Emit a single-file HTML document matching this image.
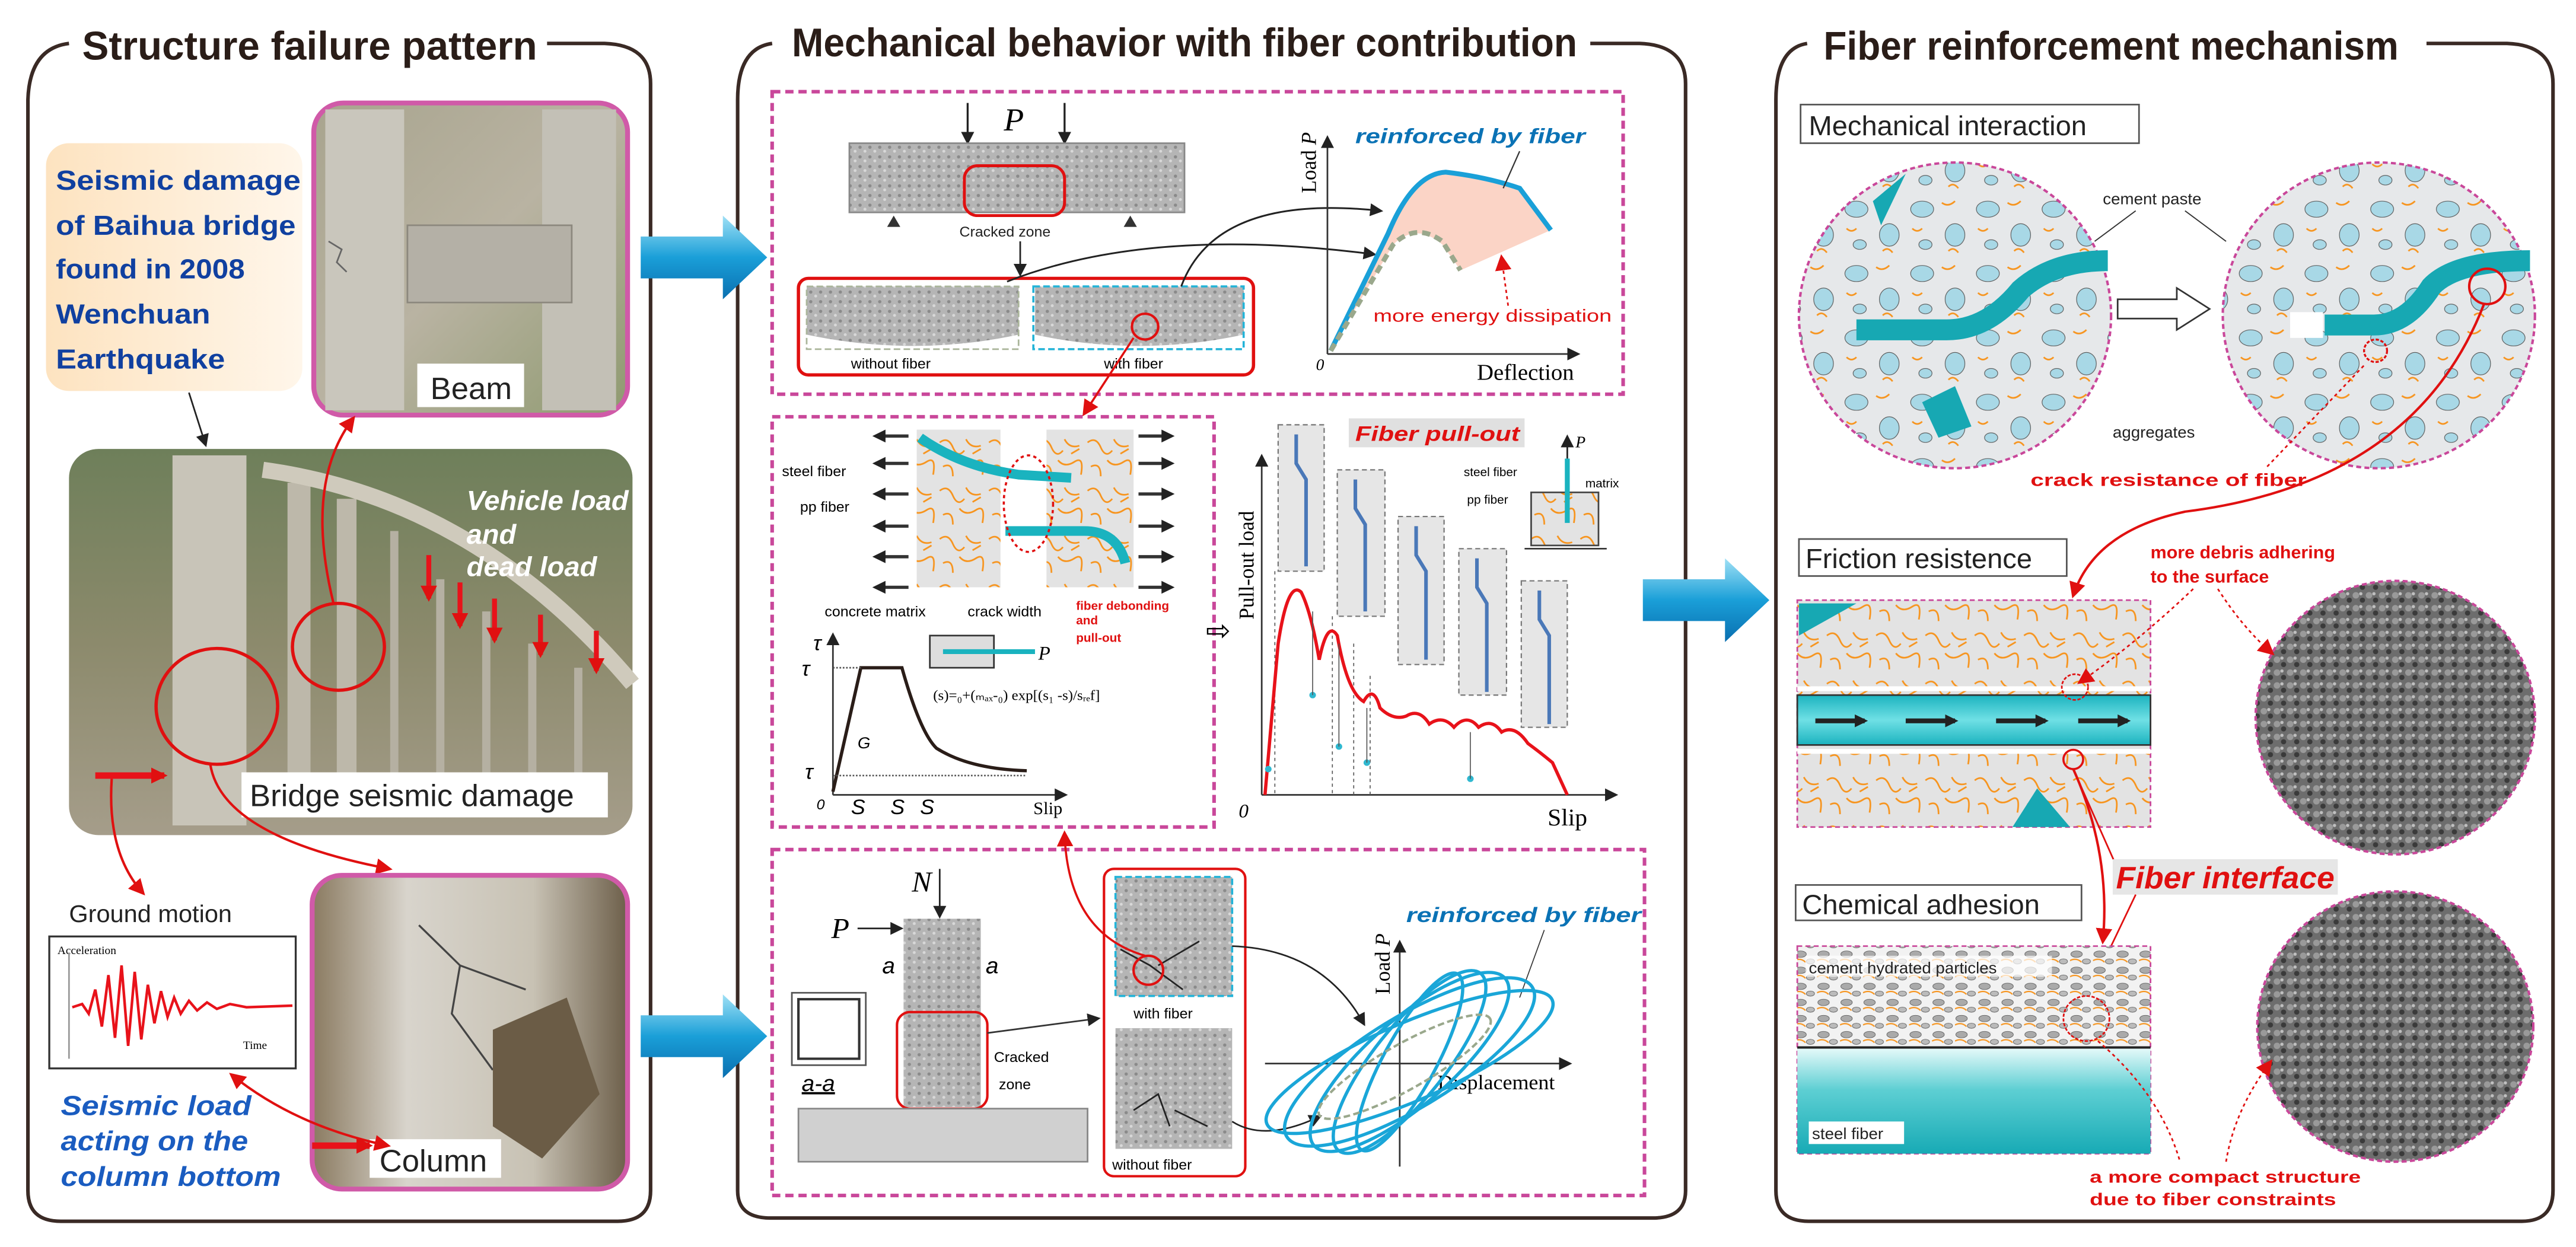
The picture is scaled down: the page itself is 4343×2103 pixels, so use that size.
<!DOCTYPE html>
<html><head><meta charset="utf-8"><style>
html,body{margin:0;padding:0;background:#fff;}
svg{display:block;}
text{font-family:"Liberation Sans",sans-serif;}
.ser{font-family:"Liberation Serif",serif;}
</style></head><body>
<svg width="4343" height="2103" viewBox="0 0 1568 775" preserveAspectRatio="none" xmlns="http://www.w3.org/2000/svg">
<defs>
<marker id="ab" markerWidth="8" markerHeight="8" refX="6" refY="4" orient="auto" markerUnits="userSpaceOnUse"><path d="M0,0 L8,4 L0,8 z" fill="#222"/></marker>
<marker id="ar" markerWidth="10" markerHeight="10" refX="8" refY="5" orient="auto" markerUnits="userSpaceOnUse"><path d="M0,0 L10,5 L0,10 z" fill="#e01010"/></marker>
<marker id="ars" markerWidth="10" markerHeight="10" refX="2" refY="5" orient="auto" markerUnits="userSpaceOnUse"><path d="M10,0 L0,5 L10,10 z" fill="#e01010"/></marker>
<linearGradient id="barr" x1="0" y1="0" x2="0" y2="1"><stop offset="0" stop-color="#9fe0f5"/><stop offset="0.5" stop-color="#1a9fd8"/><stop offset="1" stop-color="#0a6fb0"/></linearGradient>
<linearGradient id="teal" x1="0" y1="0" x2="0" y2="1"><stop offset="0" stop-color="#e8fafa"/><stop offset="0.4" stop-color="#5dcfd3"/><stop offset="1" stop-color="#17aab5"/></linearGradient>
<linearGradient id="tealb" x1="0" y1="0" x2="0" y2="1"><stop offset="0" stop-color="#1bb3bf"/><stop offset="0.5" stop-color="#6fe0e5"/><stop offset="1" stop-color="#1bb3bf"/></linearGradient>
<linearGradient id="peach" x1="0" y1="0" x2="1" y2="0"><stop offset="0" stop-color="#fde3c0"/><stop offset="1" stop-color="#fff6ea"/></linearGradient>
<linearGradient id="photo1" x1="0" y1="0" x2="1" y2="1"><stop offset="0" stop-color="#a8a48e"/><stop offset="0.5" stop-color="#b9b3a2"/><stop offset="1" stop-color="#8f9a70"/></linearGradient>
<linearGradient id="photo2" x1="0" y1="0" x2="0" y2="1"><stop offset="0" stop-color="#6e7f5a"/><stop offset="0.5" stop-color="#8c8a6c"/><stop offset="1" stop-color="#a59d8a"/></linearGradient>
<linearGradient id="photo3" x1="0" y1="0" x2="1" y2="0"><stop offset="0" stop-color="#8a7a60"/><stop offset="0.3" stop-color="#d8d4cc"/><stop offset="0.7" stop-color="#c8c2b4"/><stop offset="1" stop-color="#6d5f4a"/></linearGradient>
<pattern id="conc" width="6" height="6" patternUnits="userSpaceOnUse"><rect width="6" height="6" fill="#b5b5b5"/><circle cx="1.5" cy="1.5" r="1" fill="#8a8a8a"/><circle cx="4.5" cy="4" r="0.9" fill="#d8d8d8"/></pattern>
<pattern id="fib" width="30" height="30" patternUnits="userSpaceOnUse"><rect width="30" height="30" fill="#e3e3e3"/><path d="M2,5 q5,-4 8,3 t7,2 M18,3 q3,6 9,4 M4,20 q6,-3 6,6 M14,16 q4,5 10,1 t4,8 M22,12 l5,-3" stroke="#f7941d" stroke-width="1" fill="none"/></pattern>
<pattern id="sem" width="8" height="8" patternUnits="userSpaceOnUse"><rect width="8" height="8" fill="#6d6d6d"/><circle cx="2" cy="2" r="2" fill="#9a9a9a"/><circle cx="6" cy="5" r="1.6" fill="#3a3a3a"/><circle cx="5" cy="1" r="1" fill="#c0c0c0"/></pattern>
<pattern id="agg" width="40" height="40" patternUnits="userSpaceOnUse"><rect width="40" height="40" fill="#e6e8ea"/><ellipse cx="10" cy="10" rx="7" ry="5" fill="#a8d8e6" stroke="#555" stroke-width="0.4"/><ellipse cx="30" cy="26" rx="6" ry="7" fill="#a8d8e6" stroke="#555" stroke-width="0.4"/><ellipse cx="12" cy="32" rx="4" ry="3" fill="#a8d8e6" stroke="#555" stroke-width="0.4"/><path d="M22,6 q4,3 8,-1 M4,22 q3,3 6,0 M26,36 q3,-3 6,1" stroke="#f7941d" stroke-width="1" fill="none"/></pattern>
<pattern id="part" width="14" height="10" patternUnits="userSpaceOnUse"><rect width="14" height="10" fill="#f2f2f2"/><ellipse cx="4" cy="3" rx="3.5" ry="2" fill="#aaa" stroke="#555" stroke-width="0.3"/><ellipse cx="10" cy="7.5" rx="2.5" ry="1.6" fill="#bbb" stroke="#555" stroke-width="0.3"/><path d="M0,7 q4,-2 7,1" stroke="#f7941d" stroke-width="0.8" fill="none"/></pattern>
</defs>

<!-- Panel frames -->
<g fill="none" stroke="#3a2a25" stroke-width="2.2">
<path d="M42,27 Q18,30 17,62 L17,740 Q17,759 37,759 L376,759 Q396,759 396,740 L396,52 Q396,28 368,27 L333,27"/>
<path d="M470,27 Q449,30 449,62 L449,740 Q449,757 469,757 L1006,757 Q1026,757 1026,740 L1026,52 Q1026,28 998,27 L968,27"/>
<path d="M1100,27 Q1081,30 1081,62 L1081,740 Q1081,759 1101,759 L1535,759 Q1554,759 1554,740 L1554,52 Q1554,28 1526,27 L1477,27"/>
</g>
<g font-weight="bold" fill="#2a1d18" font-size="25">
<text x="50" y="37" textLength="277" lengthAdjust="spacingAndGlyphs">Structure failure pattern</text>
<text x="482" y="35" textLength="478" lengthAdjust="spacingAndGlyphs">Mechanical behavior with fiber contribution</text>
<text x="1110" y="37" textLength="350" lengthAdjust="spacingAndGlyphs">Fiber reinforcement mechanism</text>
</g>

<!-- LEFT PANEL -->
<rect x="28" y="89" width="156" height="154" rx="14" fill="url(#peach)"/>
<g fill="#1040a0" font-weight="bold" font-size="17">
<text x="34" y="118" textLength="149" lengthAdjust="spacingAndGlyphs">Seismic damage</text>
<text x="34" y="146" textLength="146" lengthAdjust="spacingAndGlyphs">of Baihua bridge</text>
<text x="34" y="173" textLength="115" lengthAdjust="spacingAndGlyphs">found in 2008</text>
<text x="34" y="201" textLength="94" lengthAdjust="spacingAndGlyphs">Wenchuan</text>
<text x="34" y="229" textLength="103" lengthAdjust="spacingAndGlyphs">Earthquake</text>
</g>
<line x1="115" y1="244" x2="125" y2="276" stroke="#222" stroke-width="1" marker-end="url(#ab)"/>
<!-- Beam photo -->
<rect x="191" y="64" width="191" height="194" rx="18" fill="url(#photo1)" stroke="#d05aa8" stroke-width="3"/>
<rect x="198" y="68" width="48" height="187" fill="#c9c6bc"/>
<rect x="330" y="68" width="45" height="187" fill="#c3c0b6"/>
<rect x="248" y="140" width="100" height="48" fill="#b4b0a6" stroke="#8c887e"/>
<path d="M200,150 l8,5 -3,8 6,6" stroke="#666" fill="none"/>
<rect x="254" y="226" width="65" height="27" fill="#fff"/>
<text x="262" y="248" font-size="19" fill="#222">Beam</text>
<!-- Bridge photo -->
<rect x="42" y="279" width="343" height="240" rx="18" fill="url(#photo2)"/>
<rect x="105" y="283" width="45" height="230" fill="#c8c4b8"/>
<rect x="175" y="300" width="14" height="200" fill="#bdb8aa"/>
<rect x="205" y="310" width="12" height="190" fill="#bdb8aa"/>
<path d="M160,292 Q290,310 385,425" stroke="#cfcabc" stroke-width="10" fill="none"/>
<g stroke="#b5b0a2" stroke-width="5"><line x1="240" y1="330" x2="240" y2="505"/><line x1="268" y1="360" x2="268" y2="505"/><line x1="296" y1="380" x2="296" y2="505"/><line x1="324" y1="400" x2="324" y2="505"/><line x1="352" y1="415" x2="352" y2="505"/></g>
<g fill="#fff" font-style="italic" font-weight="bold" font-size="17"><text x="284" y="317">Vehicle load</text><text x="284" y="338">and</text><text x="284" y="358">dead load</text></g>
<g stroke="#e8121a" stroke-width="3" marker-end="url(#ar)"><line x1="261" y1="345" x2="261" y2="372"/><line x1="280" y1="362" x2="280" y2="389"/><line x1="301" y1="372" x2="301" y2="398"/><line x1="329" y1="382" x2="329" y2="407"/><line x1="363" y1="392" x2="363" y2="417"/></g>
<ellipse cx="206" cy="402" rx="28" ry="27" fill="none" stroke="#e01010" stroke-width="2"/>
<ellipse cx="132" cy="439" rx="37" ry="36" fill="none" stroke="#e01010" stroke-width="2"/>
<rect x="147" y="480" width="223" height="28" fill="#fff"/>
<text x="152" y="501" font-size="19" fill="#222">Bridge seismic damage</text>
<line x1="58" y1="482" x2="100" y2="482" stroke="#e8121a" stroke-width="4" marker-end="url(#ar)"/>
<path d="M203,375 Q185,300 215,260" stroke="#e01010" stroke-width="1.5" fill="none" marker-end="url(#ar)"/>
<path d="M128,475 Q135,520 237,540" stroke="#e01010" stroke-width="1.5" fill="none" marker-end="url(#ar)"/>
<path d="M68,484 Q65,530 87,555" stroke="#e01010" stroke-width="1.5" fill="none" marker-end="url(#ar)"/>
<!-- column photo -->
<rect x="190" y="544" width="192" height="195" rx="18" fill="url(#photo3)" stroke="#d05aa8" stroke-width="3"/>
<path d="M255,575 L280,600 L275,630 L300,665 M280,600 L320,615" stroke="#444" stroke-width="1.2" fill="none"/>
<path d="M300,640 L345,620 L365,680 L330,720 L300,700z" fill="#6b5c46"/>
<rect x="225" y="708" width="80" height="24" fill="#fff"/>
<text x="231" y="728" font-size="19" fill="#222">Column</text>
<text x="42" y="573" font-size="15" fill="#222">Ground motion</text>
<rect x="30" y="582" width="150" height="82" fill="#fff" stroke="#333" stroke-width="1.2"/>
<text x="35" y="593" font-size="7" class="ser">Acceleration</text>
<text x="148" y="652" font-size="7" class="ser">Time</text>
<line x1="42" y1="592" x2="42" y2="658" stroke="#999" stroke-width="1"/>
<path d="M44,626 L50,624 L54,630 L58,615 L62,638 L66,606 L70,645 L74,600 L78,650 L82,604 L86,646 L90,612 L94,636 L98,616 L102,632 L106,620 L110,630 L115,622 L120,628 L126,623 L132,627 L140,624 L150,626 L178,625" stroke="#e8121a" stroke-width="1.6" fill="none"/>
<path d="M141,668 Q180,700 236,712" stroke="#e01010" stroke-width="1.5" fill="none" marker-start="url(#ars)" marker-end="url(#ar)"/>
<line x1="190" y1="712" x2="225" y2="712" stroke="#e8121a" stroke-width="4" marker-end="url(#ar)"/>
<g fill="#1a5cc0" font-weight="bold" font-style="italic" font-size="17"><text x="37" y="693" textLength="116" lengthAdjust="spacingAndGlyphs">Seismic load</text><text x="37" y="715" textLength="114" lengthAdjust="spacingAndGlyphs">acting on the</text><text x="37" y="737" textLength="134" lengthAdjust="spacingAndGlyphs">column bottom</text></g>

<!-- big blue arrows -->
<path d="M390,147 L440,147 L440,134 L467,160 L440,186 L440,173 L390,173z" fill="url(#barr)"/>
<path d="M390,631 L440,631 L440,618 L467,644 L440,670 L440,657 L390,657z" fill="url(#barr)"/>
<path d="M1000,360 L1050,360 L1050,347 L1077,373 L1050,399 L1050,386 L1000,386z" fill="url(#barr)"/>

<!-- MIDDLE PANEL -->
<g fill="none" stroke="#c9479a" stroke-width="2.2" stroke-dasharray="5,3">
<rect x="470" y="57" width="518" height="188"/>
<rect x="470" y="259" width="269" height="255"/>
<rect x="470" y="528" width="531" height="215"/>
</g>
<!-- box1 -->
<line x1="589" y1="64" x2="589" y2="88" stroke="#222" stroke-width="1.2" marker-end="url(#ab)"/>
<line x1="648" y1="64" x2="648" y2="88" stroke="#222" stroke-width="1.2" marker-end="url(#ab)"/>
<text x="611" y="81" font-size="20" font-style="italic" class="ser">P</text>
<rect x="517" y="89" width="204" height="43" fill="url(#conc)" stroke="#888"/>
<rect x="587" y="103" width="61" height="31" rx="8" fill="none" stroke="#e01010" stroke-width="1.8"/>
<path d="M540,141 L544,134 L548,141z M684,141 L688,134 L692,141z" fill="#333"/>
<text x="584" y="147" font-size="9" fill="#222">Cracked zone</text>
<line x1="621" y1="150" x2="621" y2="170" stroke="#222" stroke-width="1" marker-end="url(#ab)"/>
<rect x="486" y="173" width="277" height="60" rx="6" fill="none" stroke="#e01010" stroke-width="2"/>
<path d="M491,178 L620,178 L620,208 Q556,222 491,208z" fill="url(#conc)"/>
<path d="M630,178 L757,178 L757,208 Q693,222 630,208z" fill="url(#conc)"/>
<rect x="491" y="178" width="129" height="39" fill="none" stroke="#aab59a" stroke-dasharray="4,2"/>
<rect x="629" y="178" width="128" height="39" fill="none" stroke="#22b3d8" stroke-width="1.3" stroke-dasharray="4,2"/>
<circle cx="697" cy="203" r="8" fill="none" stroke="#e01010" stroke-width="1.5"/>
<text x="518" y="229" font-size="9">without fiber</text>
<text x="672" y="229" font-size="9">with fiber</text>
<path d="M613,175 Q700,140 836,158" stroke="#222" stroke-width="1.1" fill="none" marker-end="url(#ab)"/>
<path d="M719,178 Q740,120 840,131" stroke="#222" stroke-width="1.1" fill="none" marker-end="url(#ab)"/>
<path d="M690,210 L660,257" stroke="#e01010" stroke-width="1.3" fill="none" marker-end="url(#ar)"/>
<line x1="808" y1="220" x2="808" y2="86" stroke="#333" stroke-width="1" marker-end="url(#ab)"/>
<line x1="808" y1="220" x2="960" y2="220" stroke="#333" stroke-width="1" marker-end="url(#ab)"/>
<text transform="translate(801,120) rotate(-90)" font-size="13" class="ser">Load <tspan font-style="italic">P</tspan></text>
<text x="801" y="230" font-size="10" font-style="italic" class="ser">0</text>
<text x="899" y="236" font-size="14" class="ser">Deflection</text>
<path d="M810,218 L845,145 Q860,108 880,107 Q905,110 925,117 L944,143 L889,168 L878,152 Q862,138 848,152z" fill="#fbd4c6"/>
<path d="M810,218 L845,145 Q860,108 880,107 Q905,110 925,117 L944,143" stroke="#1aa0d8" stroke-width="3" fill="none"/>
<path d="M810,218 L848,152 Q862,138 878,150 L889,168" stroke="#9aa88c" stroke-width="3" fill="none" stroke-dasharray="5,3"/>
<text x="825" y="89" font-size="13" fill="#0a72b5" font-weight="bold" font-style="italic" textLength="140" lengthAdjust="spacingAndGlyphs">reinforced by fiber</text>
<line x1="925" y1="94" x2="915" y2="117" stroke="#333" stroke-width="0.8"/>
<text x="836" y="200" font-size="11" fill="#e01010" textLength="145" lengthAdjust="spacingAndGlyphs">more energy dissipation</text>
<line x1="918" y1="190" x2="914" y2="160" stroke="#e01010" stroke-dasharray="2,2" marker-end="url(#ar)"/>
<!-- box2 -->
<rect x="558" y="267" width="51" height="98" fill="url(#fib)"/>
<rect x="637" y="267" width="53" height="98" fill="url(#fib)"/>
<path d="M560,272 Q585,290 620,295 L652,297" stroke="#1ab3bf" stroke-width="6" fill="none"/>
<path d="M612,330 L660,330 Q680,330 685,350" stroke="#1ab3bf" stroke-width="6" fill="none"/>
<ellipse cx="626" cy="313" rx="15" ry="30" fill="none" stroke="#e01010" stroke-dasharray="2,2" stroke-width="1.3"/>
<g stroke="#333" stroke-width="2" marker-end="url(#ab)">
<line x1="553" y1="271" x2="533" y2="271"/><line x1="553" y1="288" x2="533" y2="288"/><line x1="553" y1="307" x2="533" y2="307"/><line x1="553" y1="327" x2="533" y2="327"/><line x1="553" y1="346" x2="533" y2="346"/><line x1="553" y1="365" x2="533" y2="365"/>
<line x1="693" y1="271" x2="713" y2="271"/><line x1="693" y1="288" x2="713" y2="288"/><line x1="693" y1="307" x2="713" y2="307"/><line x1="693" y1="327" x2="713" y2="327"/><line x1="693" y1="346" x2="713" y2="346"/><line x1="693" y1="365" x2="713" y2="365"/>
</g>
<text x="476" y="296" font-size="9">steel fiber</text>
<text x="487" y="318" font-size="9">pp fiber</text>
<text x="502" y="383" font-size="9">concrete matrix</text>
<text x="589" y="383" font-size="9">crack width</text>
<g fill="#e01010" font-size="7.5" font-weight="bold"><text x="655" y="379">fiber debonding</text><text x="655" y="388">and</text><text x="655" y="399">pull-out</text></g>
<line x1="507" y1="494" x2="507" y2="395" stroke="#333" marker-end="url(#ab)"/>
<line x1="507" y1="494" x2="648" y2="494" stroke="#333" marker-end="url(#ab)"/>
<path d="M507,492 L524,415 L549,415 Q560,455 570,465 Q590,478 625,479" stroke="#2a1d18" stroke-width="2" fill="none"/>
<line x1="507" y1="415" x2="524" y2="415" stroke="#555" stroke-dasharray="1,1"/>
<line x1="507" y1="482" x2="625" y2="482" stroke="#555" stroke-dasharray="1,1"/>
<g class="ser" font-style="italic" font-size="13"><text x="495" y="404">τ</text><text x="488" y="420">τ</text><text x="490" y="484">τ</text><text x="518" y="506">S</text><text x="542" y="506">S</text><text x="560" y="506">S</text><text x="522" y="465" font-size="10">G</text><text x="497" y="503" font-size="9">0</text></g>
<text x="629" y="506" font-size="11" class="ser">Slip</text>
<rect x="566" y="395" width="39" height="20" fill="#ddd" stroke="#333"/>
<line x1="574" y1="405" x2="630" y2="405" stroke="#1ab3bf" stroke-width="3"/>
<text x="632" y="410" font-size="12" font-style="italic" class="ser">P</text>
<text x="568" y="435" font-size="9" class="ser">(s)=₀+(ₘₐₓ-₀) exp[(s₁ -s)/sᵣₑf]</text>
<text x="734" y="398" font-size="18" class="ser">⇨</text>
<!-- pull-out chart -->
<line x1="768" y1="494" x2="768" y2="284" stroke="#333" marker-end="url(#ab)"/>
<line x1="768" y1="494" x2="983" y2="494" stroke="#333" marker-end="url(#ab)"/>
<text transform="translate(763,385) rotate(-90)" font-size="13" class="ser">Pull-out load</text>
<text x="754" y="508" font-size="12" font-style="italic" class="ser">0</text>
<text x="942" y="513" font-size="15" class="ser">Slip</text>
<rect x="821" y="260" width="107" height="18" fill="#e0e0e0"/>
<text x="825" y="274" font-size="13" fill="#e01010" font-weight="bold" font-style="italic" textLength="100" lengthAdjust="spacingAndGlyphs">Fiber pull-out</text>
<g fill="#e6e6e6" stroke="#777" stroke-dasharray="3,2" stroke-width="0.8">
<rect x="778" y="264" width="28" height="91"/><rect x="814" y="292" width="29" height="91"/><rect x="851" y="321" width="28" height="92"/><rect x="888" y="341" width="29" height="91"/><rect x="926" y="361" width="28" height="91"/>
</g>
<g stroke="#4a78b8" stroke-width="2.2" fill="none">
<path d="M789,270 L789,288 L795,298 L795,352"/><path d="M825,298 L825,316 L831,326 L831,380"/><path d="M862,327 L862,345 L868,355 L868,410"/><path d="M899,347 L899,365 L905,375 L905,430"/><path d="M937,367 L937,385 L943,395 L943,450"/>
</g>
<g stroke="#555" stroke-width="0.6" stroke-dasharray="2,2"><line x1="776" y1="355" x2="776" y2="494"/><line x1="811" y1="383" x2="811" y2="494"/><line x1="824" y1="400" x2="824" y2="494"/><line x1="834" y1="420" x2="834" y2="494"/></g>
<path d="M770,494 L778,400 Q784,360 792,368 Q798,380 803,410 Q808,385 814,395 Q820,430 830,436 Q836,425 840,440 Q848,448 856,445 Q864,440 870,450 Q878,444 885,452 Q893,443 900,452 Q908,446 914,455 Q922,450 930,462 Q938,468 945,474 L954,494" stroke="#e8121a" stroke-width="2" fill="none"/>
<g fill="#2fb8d0"><circle cx="772" cy="478" r="2"/><circle cx="799" cy="432" r="2"/><circle cx="815" cy="464" r="2"/><circle cx="832" cy="474" r="2"/><circle cx="895" cy="484" r="2"/></g>
<g stroke="#555" stroke-width="0.6"><line x1="799" y1="432" x2="799" y2="380"/><line x1="815" y1="464" x2="815" y2="400"/><line x1="832" y1="474" x2="832" y2="440"/><line x1="895" y1="484" x2="895" y2="455"/></g>
<rect x="932" y="306" width="41" height="33" fill="url(#fib)" stroke="#444"/>
<line x1="954" y1="325" x2="954" y2="285" stroke="#1ab3bf" stroke-width="3"/>
<line x1="954" y1="285" x2="954" y2="272" stroke="#222" marker-end="url(#ab)"/>
<text x="959" y="278" font-size="10" font-style="italic" class="ser">P</text>
<text x="891" y="296" font-size="7.5">steel fiber</text><text x="893" y="313" font-size="7.5">pp fiber</text><text x="965" y="303" font-size="7.5">matrix</text>
<line x1="928" y1="341" x2="978" y2="341" stroke="#333"/>
<!-- box3 -->
<text x="555" y="554" font-size="18" font-style="italic" class="ser">N</text>
<line x1="572" y1="540" x2="572" y2="569" stroke="#222" marker-end="url(#ab)"/>
<text x="506" y="583" font-size="18" font-style="italic" class="ser">P</text>
<line x1="522" y1="577" x2="548" y2="577" stroke="#222" marker-end="url(#ab)"/>
<rect x="550" y="571" width="47" height="117" fill="url(#conc)"/>
<rect x="546" y="629" width="55" height="60" rx="8" fill="none" stroke="#e01010" stroke-width="1.5"/>
<g font-size="14" font-style="italic" class="ser"><text x="537" y="605">a</text><text x="600" y="605">a</text><text x="488" y="678" text-decoration="underline">a-a</text></g>
<rect x="482" y="617" width="45" height="45" fill="#fff" stroke="#555" stroke-width="1"/>
<rect x="486" y="621" width="37" height="37" fill="none" stroke="#333" stroke-width="1.5"/>
<rect x="486" y="689" width="176" height="33" fill="#d0d0d0" stroke="#888"/>
<text x="605" y="660" font-size="9">Cracked</text><text x="608" y="677" font-size="9">zone</text>
<line x1="601" y1="642" x2="668" y2="633" stroke="#333" marker-end="url(#ab)"/>
<rect x="672" y="540" width="86" height="191" rx="6" fill="#fff" stroke="#e01010" stroke-width="1.5"/>
<rect x="679" y="545" width="71" height="74" fill="url(#conc)"/>
<rect x="679" y="545" width="71" height="74" fill="none" stroke="#22b3d8" stroke-dasharray="4,2" stroke-width="1.3"/>
<path d="M682,590 L700,600 L720,615 M705,600 L730,585" stroke="#222" fill="none"/>
<rect x="679" y="639" width="71" height="75" fill="url(#conc)"/>
<path d="M690,690 L705,680 L712,700 M715,690 L735,700" stroke="#222" fill="none"/>
<circle cx="699" cy="603" r="9" fill="none" stroke="#e01010" stroke-width="1.5"/>
<text x="690" y="633" font-size="9">with fiber</text><text x="677" y="727" font-size="9">without fiber</text>
<path d="M697,594 Q650,580 648,518" stroke="#e01010" stroke-width="1.3" fill="none" marker-end="url(#ar)"/>
<path d="M750,588 Q805,590 830,636" stroke="#222" fill="none" marker-end="url(#ab)"/>
<path d="M750,697 Q770,710 803,694" stroke="#222" fill="none" marker-end="url(#ab)"/>
<line x1="852" y1="725" x2="852" y2="586" stroke="#333" marker-end="url(#ab)"/>
<line x1="770" y1="661" x2="955" y2="661" stroke="#333" marker-end="url(#ab)"/>
<text transform="translate(846,618) rotate(-90)" font-size="13" class="ser">Load <tspan font-style="italic">P</tspan></text>
<text x="875" y="677" font-size="13" class="ser">Displacement</text>
<text x="856" y="573" font-size="13" fill="#0a72b5" font-weight="bold" font-style="italic" textLength="143" lengthAdjust="spacingAndGlyphs">reinforced by fiber</text>
<line x1="940" y1="578" x2="925" y2="620" stroke="#333" stroke-width="0.6"/>
<g fill="none" stroke="#1aa6d8" stroke-width="2">
<ellipse cx="858" cy="660" rx="62" ry="16" transform="rotate(-62 858 660)"/>
<ellipse cx="858" cy="660" rx="70" ry="22" transform="rotate(-52 858 660)"/>
<ellipse cx="858" cy="660" rx="78" ry="26" transform="rotate(-42 858 660)"/>
<ellipse cx="858" cy="660" rx="88" ry="28" transform="rotate(-32 858 660)"/>
<ellipse cx="858" cy="660" rx="95" ry="24" transform="rotate(-24 858 660)"/>
</g>
<ellipse cx="855" cy="663" rx="60" ry="14" transform="rotate(-30 855 663)" fill="none" stroke="#9aa88c" stroke-dasharray="4,2" stroke-width="1.5"/>

<!-- RIGHT PANEL -->
<rect x="1096" y="65" width="206" height="24" fill="#fff" stroke="#555"/>
<text x="1101" y="84" font-size="17" fill="#222">Mechanical interaction</text>
<circle cx="1190" cy="196" r="95" fill="url(#agg)" stroke="#c9479a" stroke-dasharray="3,2" stroke-width="1.5"/>
<circle cx="1448" cy="196" r="95" fill="url(#agg)" stroke="#c9479a" stroke-dasharray="3,2" stroke-width="1.5"/>
<path d="M1130,205 L1185,205 Q1210,205 1230,180 Q1250,162 1283,162" stroke="#17a8b3" stroke-width="13" fill="none"/>
<path d="M1415,202 L1445,202 Q1465,202 1480,178 Q1495,162 1540,162" stroke="#17a8b3" stroke-width="13" fill="none"/>
<path d="M1140,125 L1160,108 L1145,140z" fill="#17a8b3"/>
<path d="M1170,250 L1190,240 L1200,265 L1180,272z" fill="#17a8b3"/>
<rect x="1394" y="194" width="20" height="16" fill="#fff"/>
<path d="M1289,186 L1325,186 L1325,179 L1345,192 L1325,205 L1325,198 L1289,198z" fill="#fff" stroke="#333"/>
<text x="1280" y="127" font-size="10" fill="#222">cement paste</text>
<line x1="1300" y1="131" x2="1275" y2="150" stroke="#333" stroke-width="0.7"/>
<line x1="1330" y1="131" x2="1355" y2="150" stroke="#333" stroke-width="0.7"/>
<text x="1286" y="272" font-size="10" fill="#222">aggregates</text>
<text x="1236" y="302" font-size="11" fill="#e01010" font-weight="bold" textLength="168" lengthAdjust="spacingAndGlyphs">crack resistance of fiber</text>
<circle cx="1514" cy="178" r="11" fill="none" stroke="#e01010" stroke-width="1.5"/>
<circle cx="1446" cy="218" r="7" fill="none" stroke="#e01010" stroke-width="1.2" stroke-dasharray="2,1"/>
<line x1="1380" y1="290" x2="1440" y2="226" stroke="#e01010" stroke-dasharray="2,2"/>
<path d="M1512,189 Q1470,300 1330,318 Q1275,330 1262,370" stroke="#e01010" stroke-width="1.5" fill="none" marker-end="url(#ar)"/>
<rect x="1095" y="335" width="163" height="23" fill="#fff" stroke="#555"/>
<text x="1099" y="353" font-size="17" fill="#222">Friction resistence</text>
<g fill="#e01010" font-weight="bold" font-size="11"><text x="1309" y="347">more debris adhering</text><text x="1309" y="362">to the surface</text></g>
<rect x="1094" y="373" width="215" height="141" fill="url(#fib)" stroke="#c9479a" stroke-dasharray="3,2"/>
<rect x="1094" y="432" width="215" height="31" fill="url(#tealb)" stroke="#333"/>
<line x1="1094" y1="428" x2="1309" y2="428" stroke="#fff" stroke-width="3"/>
<line x1="1094" y1="467" x2="1309" y2="467" stroke="#fff" stroke-width="3"/>
<path d="M1095,375 L1130,375 L1095,395z" fill="#17a8b3"/>
<path d="M1225,514 L1240,490 L1260,514z" fill="#17a8b3"/>
<g stroke="#222" stroke-width="3" marker-end="url(#ab)"><line x1="1105" y1="448" x2="1135" y2="448"/><line x1="1160" y1="448" x2="1190" y2="448"/><line x1="1215" y1="448" x2="1245" y2="448"/><line x1="1265" y1="448" x2="1295" y2="448"/></g>
<circle cx="1263" cy="427" r="8" fill="none" stroke="#e01010" stroke-dasharray="2,1"/>
<circle cx="1262" cy="472" r="6" fill="none" stroke="#e01010" stroke-width="1.3"/>
<circle cx="1458" cy="446" r="85" fill="url(#sem)" stroke="#c9479a" stroke-dasharray="3,2" stroke-width="1.5"/>
<path d="M1335,366 Q1300,400 1266,424" stroke="#e01010" stroke-dasharray="2,2" fill="none" marker-end="url(#ar)"/>
<path d="M1350,366 Q1365,390 1383,406" stroke="#e01010" stroke-dasharray="2,2" fill="none" marker-end="url(#ar)"/>
<path d="M1262,478 Q1285,530 1280,585" stroke="#e01010" stroke-width="1.5" fill="none" marker-end="url(#ar)"/>
<line x1="1262" y1="478" x2="1289" y2="540" stroke="#e01010"/>
<rect x="1286" y="534" width="137" height="22" fill="#e6e6e6"/>
<text x="1288" y="552" font-size="19" fill="#e01010" font-weight="bold" font-style="italic" textLength="133" lengthAdjust="spacingAndGlyphs">Fiber interface</text>
<line x1="1300" y1="556" x2="1285" y2="588" stroke="#e01010"/>
<rect x="1093" y="550" width="174" height="22" fill="#fff" stroke="#555"/>
<text x="1097" y="568" font-size="17" fill="#222">Chemical adhesion</text>
<rect x="1094" y="588" width="215" height="129" fill="url(#part)" stroke="#c9479a" stroke-dasharray="3,2"/>
<rect x="1094" y="651" width="215" height="66" fill="url(#teal)"/>
<line x1="1094" y1="651" x2="1309" y2="651" stroke="#222" stroke-width="1.5"/>
<rect x="1099" y="594" width="150" height="13" fill="#fff" fill-opacity="0.7"/>
<text x="1101" y="605" font-size="10" fill="#222">cement hydrated particles</text>
<rect x="1101" y="697" width="58" height="14" fill="#fff"/>
<text x="1103" y="708" font-size="10" fill="#222">steel fiber</text>
<circle cx="1270" cy="633" r="14" fill="none" stroke="#e01010" stroke-dasharray="2,1"/>
<circle cx="1458" cy="638" r="84" fill="url(#sem)" stroke="#c9479a" stroke-dasharray="3,2" stroke-width="1.5"/>
<path d="M1277,647 Q1315,680 1327,722" stroke="#e01010" stroke-dasharray="2,2" fill="none"/>
<path d="M1355,722 Q1360,690 1382,660" stroke="#e01010" stroke-dasharray="2,2" fill="none" marker-end="url(#ar)"/>
<g fill="#e01010" font-weight="bold" font-size="10.5"><text x="1272" y="735" textLength="165" lengthAdjust="spacingAndGlyphs">a more compact structure</text><text x="1272" y="749" textLength="150" lengthAdjust="spacingAndGlyphs">due to fiber constraints</text></g>
</svg>
</body></html>
